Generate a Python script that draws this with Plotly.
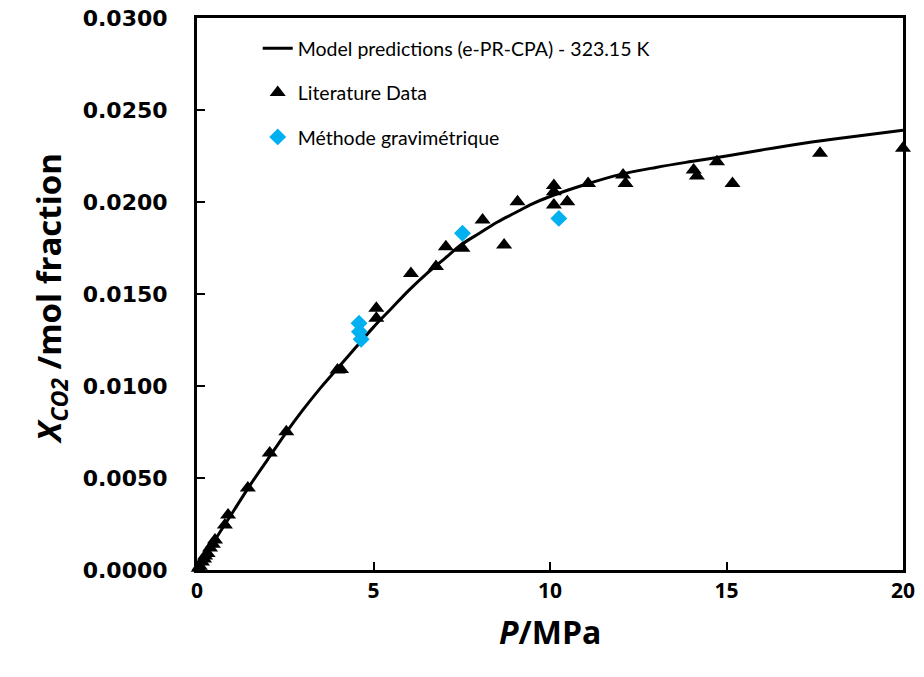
import plotly.graph_objects as go

# Model curve (e-PR-CPA, 323.15 K)
model_P = [0, 0.5, 1, 1.5, 2, 2.5, 3, 3.5, 4, 4.5, 5, 5.5, 6, 6.5, 7, 7.5, 8, 8.5,
           9, 9.5, 10, 11, 12, 13, 14, 15, 16, 17, 18, 19, 20]
model_x = [0, 0.0016, 0.0031, 0.0046, 0.0060, 0.0074, 0.0087, 0.0099, 0.0110, 0.0121,
           0.0132, 0.0142, 0.0152, 0.0161, 0.0169, 0.0177, 0.0183, 0.0189, 0.0194,
           0.0199, 0.0203, 0.02095, 0.0215, 0.02188, 0.0222, 0.0225, 0.02283, 0.02314,
           0.02341, 0.02366, 0.0239]

# Literature data
lit_P = [0.05, 0.08, 0.14, 0.20, 0.23, 0.30, 0.37, 0.45, 0.51, 0.79, 0.88, 1.44, 2.06,
         2.53, 3.98, 4.08, 5.08, 5.08, 6.06, 6.77, 7.05, 7.52, 8.09, 8.70, 9.08,
         10.11, 10.11, 10.11, 10.49, 11.08, 12.07, 12.14, 14.07, 14.16, 14.73, 15.17,
         17.65, 20.0]
lit_x = [0.0001, 0.0002, 0.00043, 0.0006, 0.00076, 0.0009, 0.0012, 0.0014, 0.00163,
         0.00245, 0.00299, 0.00446, 0.00636, 0.00752, 0.01087, 0.01090, 0.01422,
         0.01368, 0.01612, 0.01649, 0.01757, 0.01748, 0.01902, 0.01766, 0.02002,
         0.0209, 0.02056, 0.01984, 0.02002, 0.02101, 0.02147, 0.02101, 0.02174,
         0.02141, 0.02219, 0.02101, 0.02265, 0.02292]

# Gravimetric method
grav_P = [4.59, 4.60, 4.65, 7.52, 10.25]
grav_x = [0.01341, 0.01295, 0.01254, 0.01830, 0.01911]

x_ticks = [0, 5, 10, 15, 20]
y_ticks = [0, 0.005, 0.010, 0.015, 0.020, 0.025, 0.030]

fig = go.Figure()
fig.add_trace(go.Scatter(
    x=model_P, y=model_x, mode="lines", line=dict(color="black", width=3, shape="spline"),
    name="Model predictions (e-PR-CPA) - 323.15 K", legendgroup="a", cliponaxis=False))
fig.add_trace(go.Scatter(
    x=lit_P, y=lit_x, mode="markers",
    marker=dict(symbol="triangle-up", size=14, color="black"),
    name="Literature Data", legendgroup="b", cliponaxis=False))
fig.add_trace(go.Scatter(
    x=grav_P, y=grav_x, mode="markers",
    marker=dict(symbol="diamond", size=13, color="#00B0F0"),
    name="Méthode gravimétrique", legendgroup="c", cliponaxis=False))

fig.update_layout(
    width=916, height=669,
    margin=dict(l=189, r=21, t=10, b=107),
    plot_bgcolor="white", paper_bgcolor="white",
    showlegend=True,
    legend=dict(x=0.086, y=0.98, xanchor="left", yanchor="top",
                font=dict(family="Lato", size=19.5, color="black"),
                tracegroupgap=16, bgcolor="rgba(0,0,0,0)"),
    xaxis=dict(range=[0, 20], tickvals=x_ticks, ticks="inside", ticklen=8, tickwidth=2,
               tickcolor="black", showline=True, linecolor="black", linewidth=3,
               mirror=True, showgrid=False, zeroline=False, automargin=False,
               ticklabeloverflow="allow",
               tickfont=dict(family="Open Sans", size=21, color="black", weight="bold")),
    yaxis=dict(range=[0, 0.03], tickvals=y_ticks, tickformat=".4f", ticks="inside",
               ticklen=8, tickwidth=2, tickcolor="black", showline=True,
               linecolor="black", linewidth=3, mirror=True, showgrid=False,
               zeroline=False, ticklabelstandoff=22, automargin=False,
               ticklabeloverflow="allow",
               tickfont=dict(family="DejaVu Sans", size=22, color="black", weight="bold")),
)

fig.add_annotation(
    text="<b><i>P</i>/MPa</b>", xref="paper", yref="paper", x=0.5, y=-0.112,
    xanchor="center", yanchor="middle", showarrow=False,
    font=dict(family="Open Sans", size=32, color="black"))
fig.add_annotation(
    text="<b><i>X</i><sub><i>CO2</i></sub> /mol fraction</b>", xref="paper", yref="paper",
    x=-0.207, y=0.493, xanchor="center", yanchor="middle", textangle=-90,
    showarrow=False, font=dict(family="Open Sans", size=33, color="black"))

fig.write_html("out.html")
